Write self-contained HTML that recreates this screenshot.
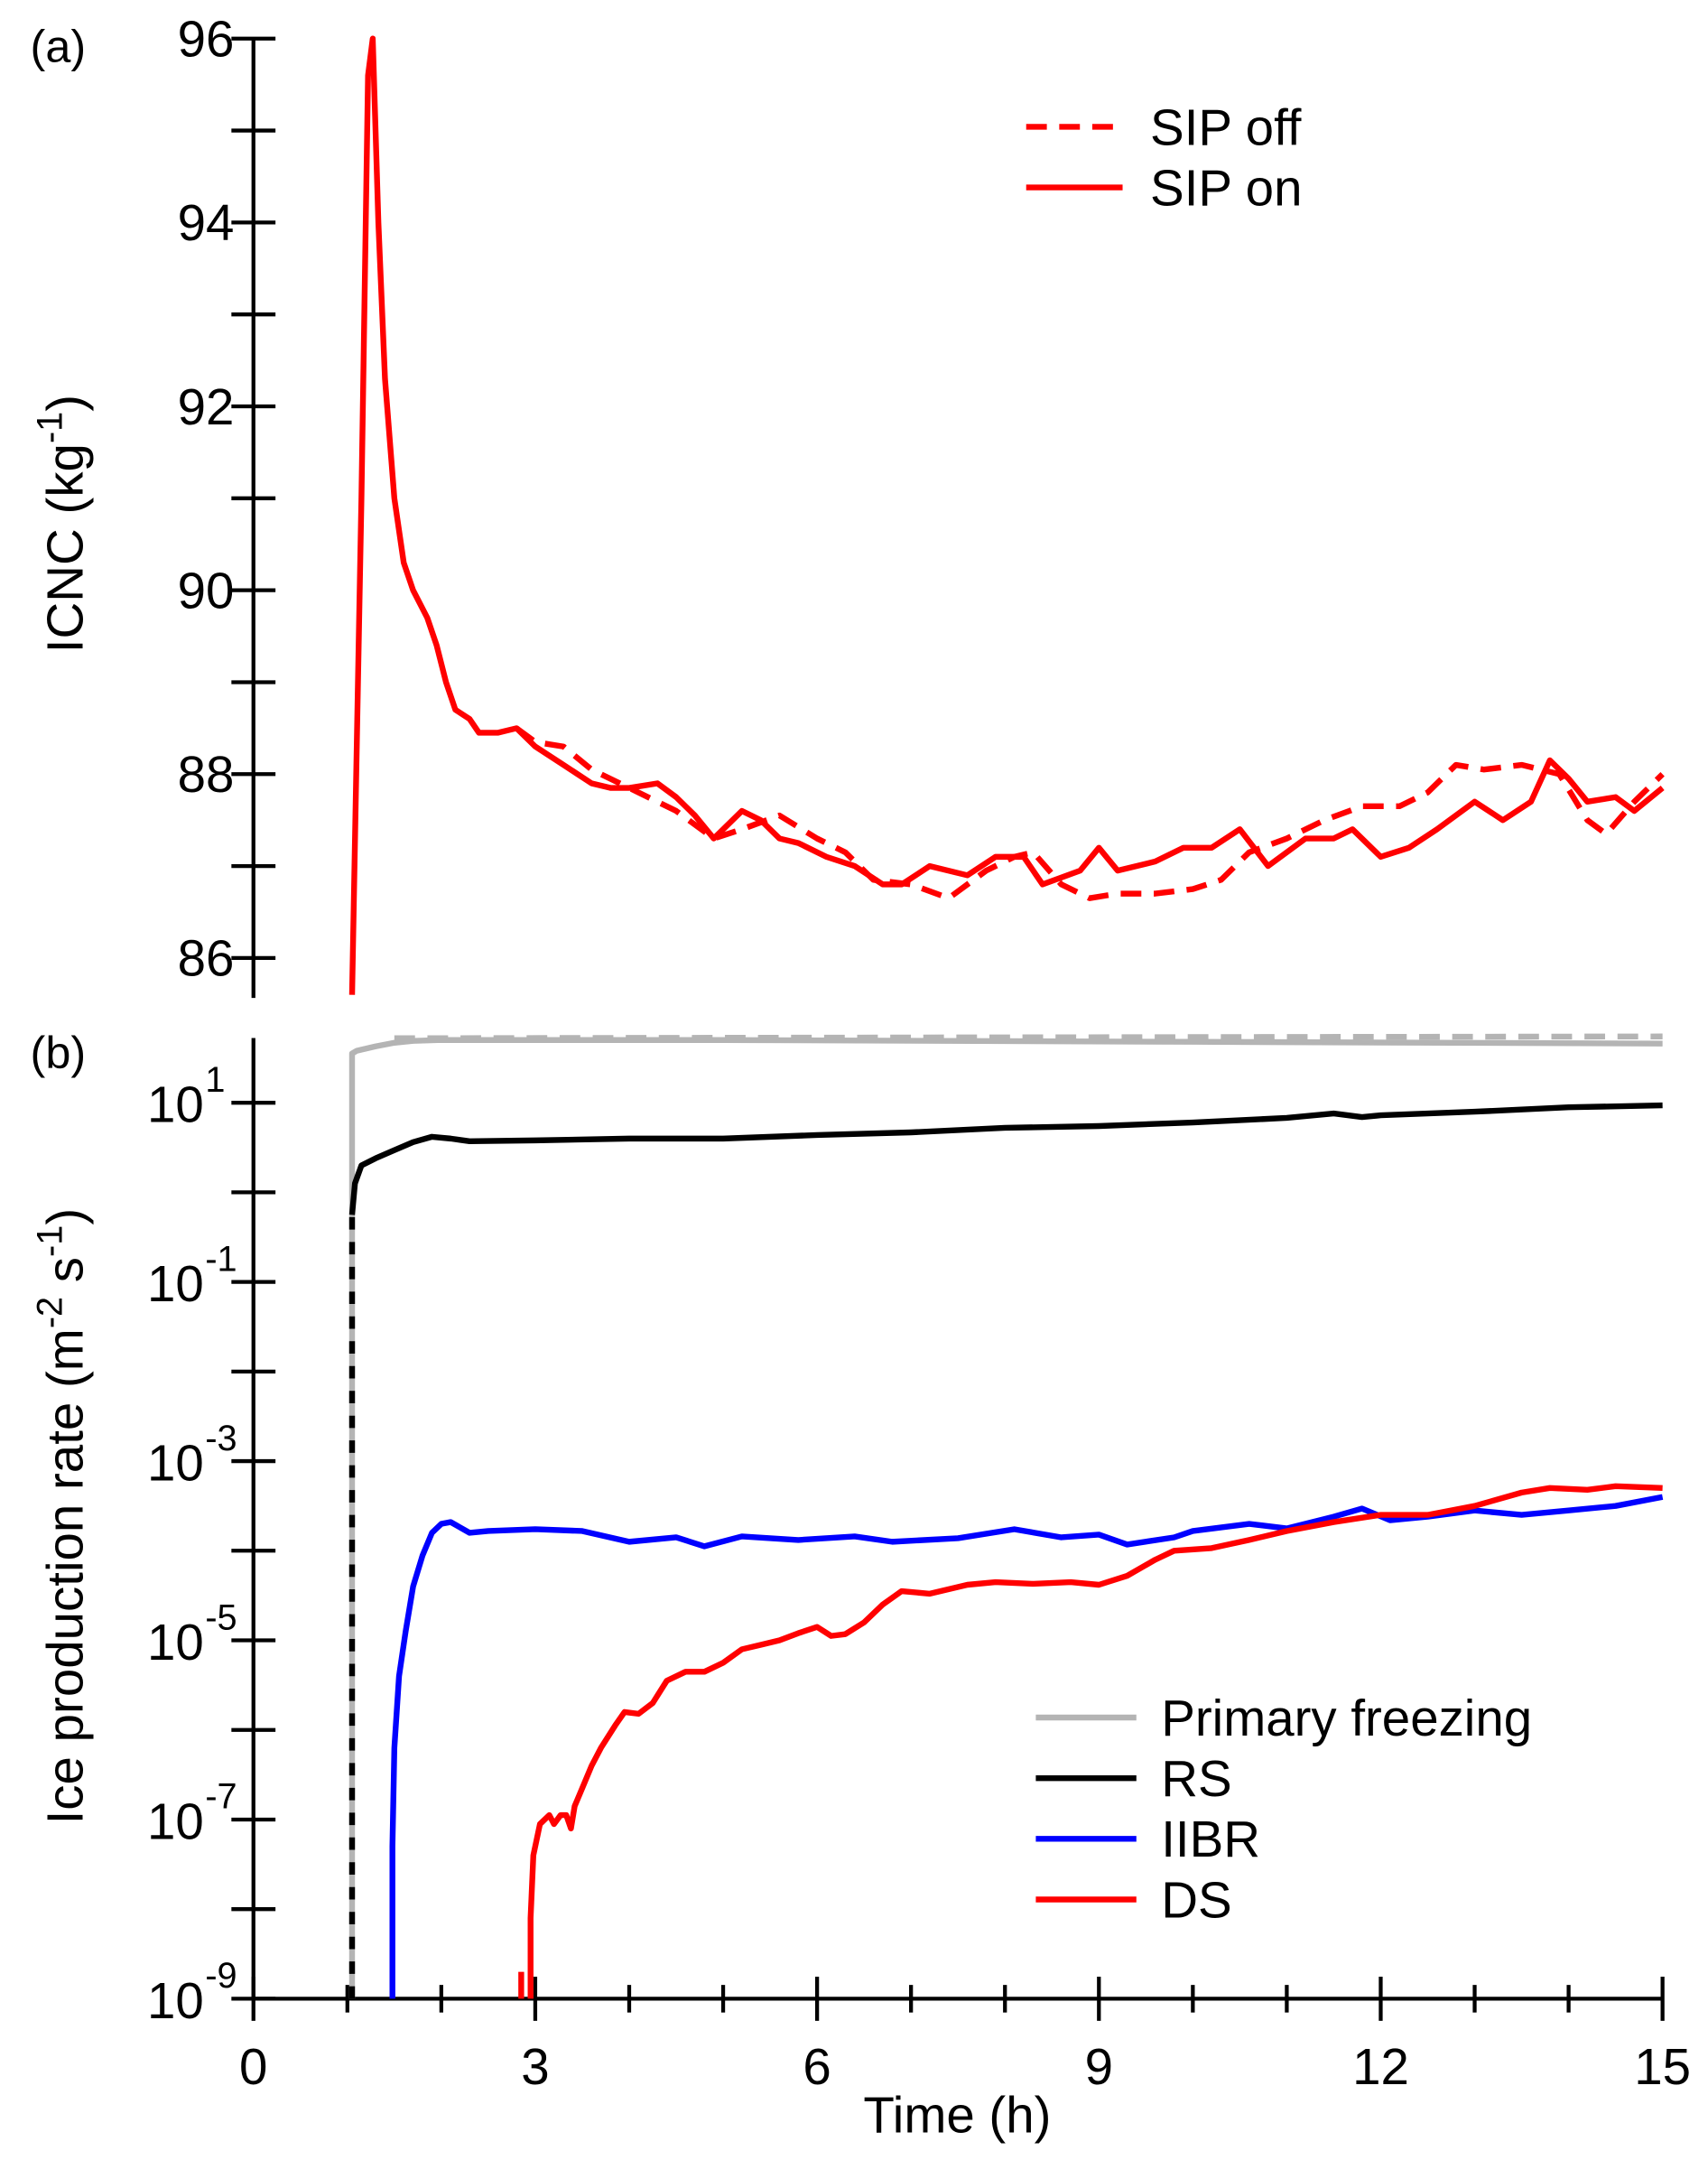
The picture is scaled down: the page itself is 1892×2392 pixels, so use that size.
<!DOCTYPE html>
<html><head><meta charset="utf-8"><style>
html,body{margin:0;padding:0;background:#fff}
svg{display:block}
text{font-family:"Liberation Sans",sans-serif;fill:#000}
</style></head><body>
<svg id="chart" width="1892" height="2392" viewBox="0 0 1240 1567" preserveAspectRatio="none" xmlns="http://www.w3.org/2000/svg">
<g id="axes"></g>
<g id="marks"></g>
<g id="labels"></g>
</svg>
<script>
const xTicks=[0,3,6,9,12,15];
const aTicks=[86,88,90,92,94,96];
const bTickExps=[-9,-7,-5,-3,-1,1];
const sipOnT=[1.05,1.15,1.22,1.27,1.33,1.4,1.5,1.6,1.7,1.85,1.95,2.05,2.15,2.3,2.4,2.6,2.8,3.0,3.3,3.6,3.8,4.0,4.3,4.5,4.7,4.9,5.05,5.2,5.4,5.6,5.8,6.1,6.4,6.7,6.9,7.2,7.6,7.9,8.2,8.4,8.8,9.0,9.2,9.6,9.9,10.2,10.5,10.8,11.2,11.5,11.7,12.0,12.3,12.6,13.0,13.3,13.6,13.8,14.0,14.2,14.5,14.7,15.0];
const sipOnV=[85.6,91,95.6,96,94,92.3,91,90.3,90,89.7,89.4,89,88.7,88.6,88.45,88.45,88.5,88.3,88.1,87.9,87.85,87.85,87.9,87.75,87.55,87.3,87.45,87.6,87.5,87.3,87.25,87.1,87.0,86.8,86.8,87.0,86.9,87.1,87.1,86.8,86.95,87.2,86.95,87.05,87.2,87.2,87.4,87.0,87.3,87.3,87.4,87.1,87.2,87.4,87.7,87.5,87.7,88.15,87.95,87.7,87.75,87.6,87.85];
const sipOffT=[2.8,3.0,3.3,3.6,4.0,4.5,4.9,5.2,5.6,6.0,6.3,6.6,7.0,7.4,7.8,8.1,8.3,8.6,8.9,9.2,9.6,10.0,10.3,10.6,11.0,11.4,11.8,12.2,12.5,12.8,13.1,13.5,13.9,14.2,14.4,14.7,15.0];
const sipOffV=[88.5,88.35,88.3,88.05,87.85,87.6,87.3,87.4,87.55,87.3,87.15,86.85,86.8,86.65,86.95,87.1,87.15,86.8,86.65,86.7,86.7,86.75,86.85,87.15,87.3,87.5,87.65,87.65,87.8,88.1,88.05,88.1,88.0,87.5,87.35,87.7,88.0];
const pfT=[1.05,1.05,1.1,1.3,1.5,1.7,2.0,5,10,15];
const pfV=[-9,1.55,1.58,1.63,1.67,1.69,1.7,1.7,1.68,1.66];
const pfOffT=[1.5,15]; const pfOffV=[1.72,1.74];
const rsT=[1.05,1.08,1.15,1.3,1.5,1.7,1.9,2.1,2.3,3.0,4.0,5.0,6.0,7.0,8.0,9.0,10.0,11.0,11.5,11.8,12.0,13.0,14.0,15.0];
const rsV=[-0.25,0.1,0.3,0.38,0.47,0.56,0.62,0.6,0.57,0.58,0.6,0.6,0.64,0.67,0.72,0.74,0.78,0.83,0.88,0.84,0.86,0.9,0.95,0.97];
const rsDashT=[1.05,1.05]; const rsDashV=[-9,-0.25];
const iiT=[1.48,1.48,1.5,1.55,1.62,1.7,1.8,1.9,2.0,2.1,2.3,2.5,3.0,3.5,4.0,4.5,4.8,5.2,5.8,6.4,6.8,7.5,8.1,8.6,9.0,9.3,9.8,10.0,10.6,11.0,11.5,11.8,12.1,12.5,13.0,13.5,14.0,14.5,15.0];
const iiV=[-9,-7.3,-6.2,-5.4,-4.9,-4.4,-4.05,-3.8,-3.7,-3.68,-3.8,-3.78,-3.76,-3.78,-3.9,-3.85,-3.95,-3.84,-3.88,-3.84,-3.9,-3.86,-3.76,-3.85,-3.82,-3.93,-3.85,-3.78,-3.7,-3.75,-3.62,-3.53,-3.66,-3.62,-3.55,-3.6,-3.55,-3.5,-3.4];
const dsT=[2.95,2.95,2.98,3.05,3.15,3.2,3.27,3.33,3.38,3.42,3.5,3.6,3.7,3.85,3.95,4.1,4.25,4.4,4.6,4.8,5.0,5.2,5.4,5.6,5.8,6.0,6.15,6.3,6.5,6.7,6.9,7.2,7.6,7.9,8.3,8.7,9.0,9.3,9.6,9.8,10.2,10.6,11.0,11.5,12.0,12.5,13.0,13.5,13.8,14.2,14.5,15.0];
const dsV=[-9,-8.1,-7.4,-7.05,-6.95,-7.05,-6.95,-6.95,-7.1,-6.85,-6.65,-6.4,-6.2,-5.95,-5.8,-5.82,-5.7,-5.45,-5.35,-5.35,-5.25,-5.1,-5.05,-5.0,-4.92,-4.85,-4.95,-4.93,-4.8,-4.6,-4.45,-4.48,-4.38,-4.35,-4.37,-4.35,-4.38,-4.28,-4.1,-4.0,-3.97,-3.88,-3.78,-3.68,-3.6,-3.6,-3.5,-3.35,-3.3,-3.32,-3.28,-3.3];
const dsStubT=[2.85,2.85]; const dsStubV=[-9,-8.7];

const NS="http://www.w3.org/2000/svg";
const X0=184,X1=1207;
function xs(t){return X0+(X1-X0)*t/15;}
function ya(v){return 695-(v-86)*(695-28)/10;}
function yb(e){return 1450-(e+9)*65;}
function mk(tag,attrs,parent){const e=document.createElementNS(NS,tag);for(const k in attrs)e.setAttribute(k,attrs[k]);document.getElementById(parent).appendChild(e);return e;}
function line(x1,y1,x2,y2,p){return mk('line',{x1,y1,x2,y2,stroke:'#000','stroke-width':2.8},p||'axes');}
function path(T,V,yf,color,w,dash,name){
  let d='';for(let i=0;i<T.length;i++){d+=(i?'L':'M')+xs(T[i]).toFixed(1)+' '+yf(V[i]).toFixed(1);}
  const p=mk('path',{d,fill:'none',stroke:color,'stroke-width':w,'stroke-linejoin':'round'},'marks');
  if(dash)p.setAttribute('stroke-dasharray',dash);
  
  
  return p;
}
function txt(x,y,s,size,anchor,name){const t=mk('text',{x,y,'font-size':size,'text-anchor':anchor||'start'},'labels');t.textContent=s;
  
  
  return t;}

const ax=line(X0,28,X0,724);


for(let v=86;v<=96;v++){ if(ya(v)>=28&&ya(v)<=724) line(X0-16,ya(v),X0+16,ya(v)); }
aTicks.forEach(v=>txt(170,ya(v)+13,String(v),37,'end','y-tick-a'));
const bx=line(X0,753,X0,1450);


for(let e=-9;e<=1;e++) line(X0-16,yb(e),X0+16,yb(e));
const xa=line(X0,1450,X1,1450);


for(let t=0;t<=15;t++){ const maj=t%3===0; line(xs(t),1450-(maj?16:10),xs(t),1450+(maj?16:10)); }
xTicks.forEach(t=>txt(xs(t),1512,String(t),37,'middle','x-tick'));
bTickExps.forEach(e=>{const t=txt(148,yb(e)+14,'10',37,'end','y-tick-b');
  const s=mk('text',{x:149,y:yb(e)-8,'font-size':26},'labels');s.textContent=(e<0?'-':'')+Math.abs(e);
  
  });

path(sipOffT,sipOffV,ya,'#ff0000',4.2,'15 9','sip-off-line');
path(sipOnT,sipOnV,ya,'#ff0000',4.2,null,'sip-on-line');
path(pfOffT,pfOffV,yb,'#b4b4b4',4.2,'15 9','primary-freezing-off-line');
path(pfT,pfV,yb,'#b4b4b4',4.2,null,'primary-freezing-line');
path(rsDashT,rsDashV,yb,'#000',4.2,'9 9','rs-dashed-line');
path(rsT,rsV,yb,'#000',4.2,null,'rs-line');
path(iiT,iiV,yb,'#0000ff',4.2,null,'iibr-line');
path(dsStubT,dsStubV,yb,'#ff0000',4.2,null,'ds-stub');
path(dsT,dsV,yb,'#ff0000',4.2,null,'ds-line');

function leg(y,color,dash,label,x1,x2,tx,name){
  const l=mk('line',{x1,y1:y,x2,y2:y,stroke:color,'stroke-width':4.2},'labels');
  if(dash)l.setAttribute('stroke-dasharray',dash);
  
  
  txt(tx,y+13,label,37,'start',name+'-label');
}
leg(92,'#ff0000','15 9','SIP off',745,815,835,'legend-sip-off');
leg(136,'#ff0000',null,'SIP on',745,815,835,'legend-sip-on');
leg(1246,'#b4b4b4',null,'Primary freezing',752,825,843,'legend-primary-freezing');
leg(1290,'#000',null,'RS',752,825,843,'legend-rs');
leg(1334,'#0000ff',null,'IIBR',752,825,843,'legend-iibr');
leg(1378,'#ff0000',null,'DS',752,825,843,'legend-ds');

txt(22,45,'(a)',33,'start','panel-a-label');
txt(22,775,'(b)',33,'start','panel-b-label');
txt(695,1547,'Time (h)',37,'middle','x-axis-title');
let g=mk('text',{transform:'translate(60,380) rotate(-90)','font-size':37,'text-anchor':'middle'},'labels');
g.innerHTML='ICNC (kg<tspan dy="-15" font-size="26">-1</tspan><tspan dy="15">)</tspan>';


let g2=mk('text',{transform:'translate(60,1100) rotate(-90)','font-size':37,'text-anchor':'middle'},'labels');
g2.innerHTML='Ice production rate (m<tspan dy="-15" font-size="26">-2</tspan><tspan dy="15"> s</tspan><tspan dy="-15" font-size="26">-1</tspan><tspan dy="15">)</tspan>';


</script>
</body></html>
